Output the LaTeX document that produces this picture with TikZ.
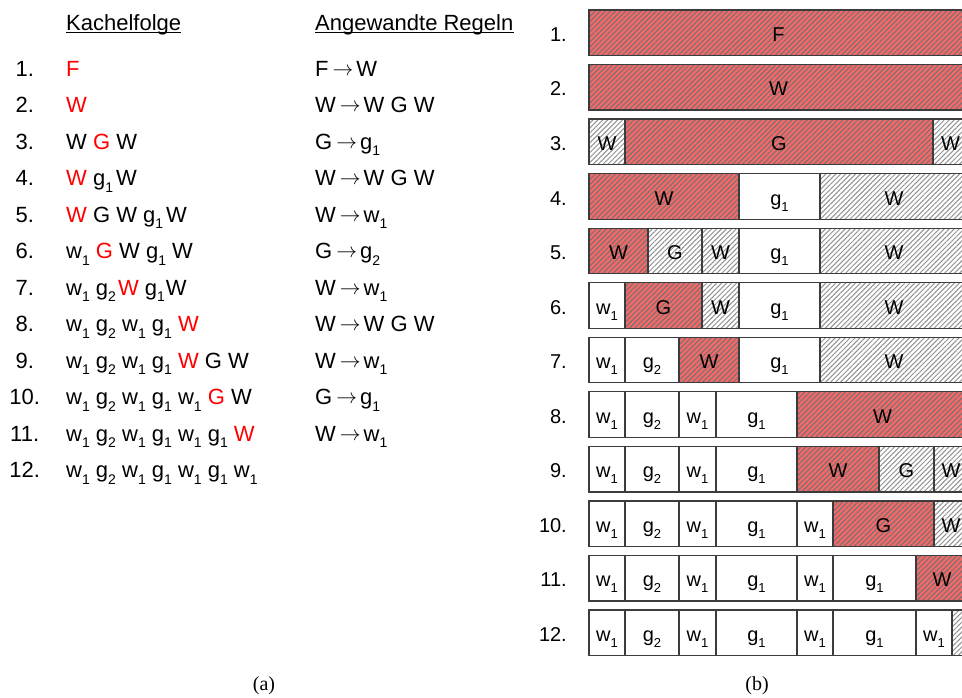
\documentclass[tikz,border=0pt]{standalone}
\usepackage{fontspec}
\setmainfont{Liberation Sans}
\newfontfamily\capfont{Liberation Serif}
\usetikzlibrary{patterns.meta}
\definecolor{redc}{RGB}{245,104,104}
\definecolor{stripered}{RGB}{115,115,115}
\definecolor{stripegray}{RGB}{145,145,145}
\definecolor{bordc}{RGB}{60,60,60}
\newcommand\sbs[1]{\raisebox{-6.5pt}{\fontsize{14}{14}\selectfont #1}}
\newcommand\sbr[1]{\raisebox{-6pt}{\fontsize{13}{13}\selectfont #1}}
\newcommand\R[1]{\textcolor{red}{#1}}
\newcommand\arr{\hspace{4pt}\raisebox{1.2pt}{\fontsize{20}{20}\selectfont$\rightarrow$}\hspace{3pt}}
\newcommand\tile[6]{%
  \pgfmathsetmacro\yt{10+(#1-1)*54.55}%
  \pgfmathsetmacro\yb{\yt+45.5}%
  \pgfmathsetmacro\yl{\yt+31.4}%
  \pgfmathsetmacro\xm{(#2+#3)/2}%
  \draw[#4] (#2,\yt) rectangle (#3,\yb);
  \node[celltxt] (#6) at (\xm,\yl) {#5};
}
\begin{document}
\begin{tikzpicture}[x=1pt,y=-1pt,
  txt/.style={font=\fontsize{22}{22}\selectfont, inner sep=0pt, anchor=base west},
  numl/.style={font=\fontsize{22}{22}\selectfont, inner sep=0pt, anchor=base},
  numr/.style={font=\fontsize{20}{20}\selectfont, inner sep=0pt, anchor=base east},
  celltxt/.style={font=\fontsize{20}{20}\selectfont, inner sep=0pt, anchor=base},
  captxt/.style={font=\capfont\fontsize{20}{20}\selectfont, inner sep=0pt},
  redcell/.style={draw=bordc, line width=1.2pt, preaction={fill=redc},
    pattern={Lines[angle=45,distance=3.6pt,line width=1.0pt]}, pattern color=stripered},
  graycell/.style={draw=bordc, line width=1.2pt, preaction={fill=white},
    pattern={Lines[angle=45,distance=3.5pt,line width=1.0pt]}, pattern color=stripegray},
  whitecell/.style={draw=bordc, line width=1.2pt, fill=white}]
\useasboundingbox (0,0) rectangle (962,698);
\clip (0,0) rectangle (962,698);
\fill[white] (0,0) rectangle (962,698);

% headings
\node[txt] (hk) at (66,30.7) {Kachelfolge};
\node[txt] (hr) at (315,30.7) {Angewandte Regeln};
\draw[line width=1pt] ([yshift=-2.2pt]hk.base west) -- ([yshift=-2.2pt]hk.base east);
\draw[line width=1pt] ([yshift=-2.2pt]hr.base west) -- ([yshift=-2.2pt]hr.base east);

% left numbers and sequences
\foreach \s [count=\i] in {
  {\R{F}},
  {\R{W}},
  {W \R{G} W},
  {\R{W} g\sbs{1}\hspace{3pt}W},
  {\R{W} G W g\sbs{1}\hspace{3pt}W},
  {w\sbs{1} \R{G} W g\sbs{1} W},
  {w\sbs{1} g\sbs{2}\hspace{2pt}\R{W} g\sbs{1}\hspace{1pt}W},
  {w\sbs{1} g\sbs{2} w\sbs{1} g\sbs{1} \R{W}},
  {w\sbs{1} g\sbs{2} w\sbs{1} g\sbs{1} \R{W} G W},
  {w\sbs{1} g\sbs{2} w\sbs{1} g\sbs{1} w\sbs{1} \R{G} W},
  {w\sbs{1} g\sbs{2} w\sbs{1} g\sbs{1} w\sbs{1} g\sbs{1} \R{W}},
  {w\sbs{1} g\sbs{2} w\sbs{1} g\sbs{1} w\sbs{1} g\sbs{1} w\sbs{1}}} {
  \pgfmathsetmacro\yy{76.4+(\i-1)*36.5}
  \node[numl] (n\i) at (24.7,\yy) {\i.};
  \node[txt] (s\i) at (66,\yy) {\s};
}

% rules
\foreach \r [count=\i] in {
  {F\arr W},
  {W\arr W G W},
  {G\arr g\sbs{1}},
  {W\arr W G W},
  {W\arr w\sbs{1}},
  {G\arr g\sbs{2}},
  {W\arr w\sbs{1}},
  {W\arr W G W},
  {W\arr w\sbs{1}},
  {G\arr g\sbs{1}},
  {W\arr w\sbs{1}}} {
  \pgfmathsetmacro\yy{76.4+(\i-1)*36.5}
  \node[txt] (r\i) at (315,\yy) {\r};
}

% right numbers
\foreach \i in {1,...,12} {
  \pgfmathsetmacro\yy{10+(\i-1)*54.55+31.4}
  \node[numr] (m\i) at (567,\yy) {\i.};
}

% bars
\tile{1}{589}{968}{redcell}{F}{a1}
\tile{2}{589}{968}{redcell}{W}{b1}
\tile{3}{589}{625}{graycell}{W}{c1}
\tile{3}{625}{933}{redcell}{G}{c2}
\tile{3}{933}{968}{graycell}{W}{c3}
\tile{4}{589}{739}{redcell}{W}{d1}
\tile{4}{739}{820}{whitecell}{g\sbr{1}}{d2}
\tile{4}{820}{968}{graycell}{W}{d3}
\tile{5}{589}{648}{redcell}{W}{e1}
\tile{5}{648}{702}{graycell}{G}{e2}
\tile{5}{702}{739}{graycell}{W}{e3}
\tile{5}{739}{820}{whitecell}{g\sbr{1}}{e4}
\tile{5}{820}{968}{graycell}{W}{e5}
\tile{6}{589}{625}{whitecell}{w\sbr{1}}{f1}
\tile{6}{625}{702}{redcell}{G}{f2}
\tile{6}{702}{739}{graycell}{W}{f3}
\tile{6}{739}{820}{whitecell}{g\sbr{1}}{f4}
\tile{6}{820}{968}{graycell}{W}{f5}
\tile{7}{589}{625}{whitecell}{w\sbr{1}}{g1}
\tile{7}{625}{679}{whitecell}{g\sbr{2}}{g2}
\tile{7}{679}{739}{redcell}{W}{g3}
\tile{7}{739}{820}{whitecell}{g\sbr{1}}{g4}
\tile{7}{820}{968}{graycell}{W}{g5}
\foreach \rw in {8,...,12} {
  \tile{\rw}{589}{625}{whitecell}{w\sbr{1}}{h\rw a}
  \tile{\rw}{625}{679}{whitecell}{g\sbr{2}}{h\rw b}
  \tile{\rw}{679}{716}{whitecell}{w\sbr{1}}{h\rw c}
  \tile{\rw}{716}{797}{whitecell}{g\sbr{1}}{h\rw d}
}
\tile{8}{797}{968}{redcell}{W}{i1}
\tile{9}{797}{879}{redcell}{W}{j1}
\tile{9}{879}{934}{graycell}{G}{j2}
\tile{9}{934}{968}{graycell}{W}{j3}
\tile{10}{797}{833}{whitecell}{w\sbr{1}}{k1}
\tile{10}{833}{934}{redcell}{G}{k2}
\tile{10}{934}{968}{graycell}{W}{k3}
\tile{11}{797}{833}{whitecell}{w\sbr{1}}{l1}
\tile{11}{833}{916}{whitecell}{g\sbr{1}}{l2}
\tile{11}{916}{968}{redcell}{W}{l3}
\tile{12}{797}{833}{whitecell}{w\sbr{1}}{o1}
\tile{12}{833}{916}{whitecell}{g\sbr{1}}{o2}
\tile{12}{916}{952}{whitecell}{w\sbr{1}}{o3}
\draw[graycell] (952,{10+11*54.55}) rectangle (968,{10+11*54.55+45.5});

% captions
\node[captxt] (ca) at (264,686) {(a)};
\node[captxt] (cb) at (757,686) {(b)};
\end{tikzpicture}
\end{document}
